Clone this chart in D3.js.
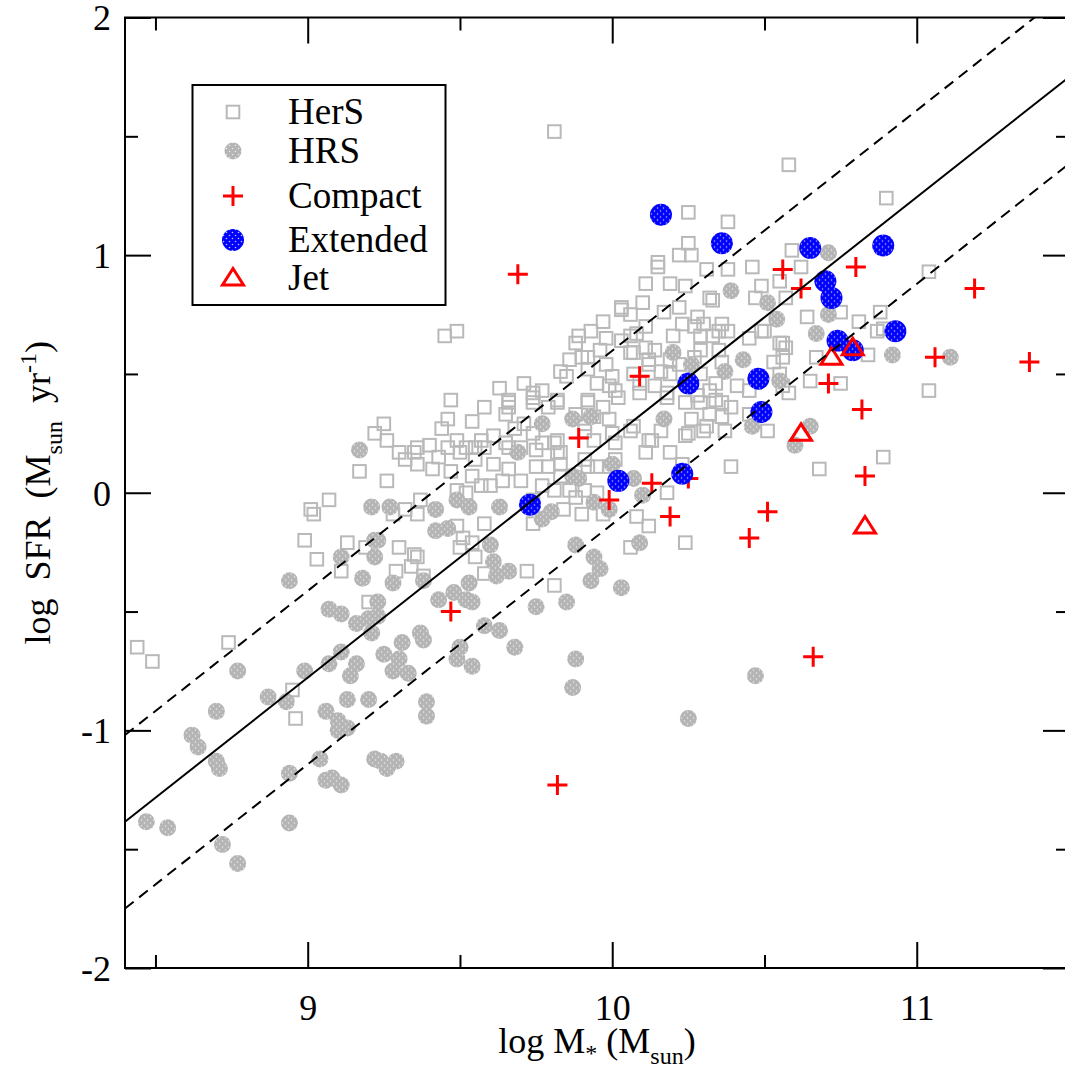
<!DOCTYPE html>
<html>
<head>
<meta charset="utf-8">
<script src="https://cdn.jsdelivr.net/npm/d3@7"></script>
<style>
  body { margin: 0; background: #fff; }
  text { font-family: "Liberation Serif", "Times New Roman", serif; }
</style>
</head>
<body>
<div id="chart"></div>
<script>
// ---- data (log M*, log SFR) ----
const hersPoints = [
  [8.44,-0.65],[8.49,-0.71],[8.74,-0.63],[8.95,-0.83],[8.96,-0.95],
  [9.01,-0.07],[9.02,-0.09],[9.07,-0.03],[8.99,-0.20],[9.03,-0.28],[9.13,-0.21],[9.11,-0.33],
  [9.17,0.09],[9.22,0.25],[9.20,-0.46],[9.19,-0.23],[9.25,0.29],
  [9.45,0.66],[9.49,0.68],[9.47,0.39],[9.46,0.31],
  [9.66,0.38],[9.74,0.38],[9.79,0.36],[9.65,0.33],[9.68,0.27],[9.71,0.29],[9.66,0.19],[9.70,0.19],
  [9.75,0.18],[9.77,0.21],[9.82,0.22],[9.83,0.17],[9.91,0.26],[9.94,0.32],[9.99,0.31],[10.01,0.21],
  [9.92,0.11],[9.99,0.11],[9.83,0.12],[9.79,0.11],[9.75,0.11],[9.70,0.05],[9.66,0.10],[9.61,0.24],
  [9.58,0.19],[9.55,0.19],[9.50,0.17],[9.35,0.17],[9.36,0.12],[9.41,0.10],[9.47,0.09],[9.54,0.07],
  [9.49,0.01],[9.52,0.00],[9.57,0.03],[9.60,0.03],[9.64,0.05],[9.37,-0.03],[9.36,-0.09],[9.32,-0.07],
  [9.28,-0.09],[9.30,-0.23],[9.35,-0.26],[9.36,-0.27],[9.29,-0.33],[9.34,-0.31],[9.38,-0.35],
  [9.51,-0.19],[9.50,-0.23],[9.54,-0.21],[9.58,-0.34],[9.55,-0.27],[9.49,-0.14],[9.58,-0.13],
  [9.72,-0.33],[9.81,-0.39],[9.74,-0.13],[9.84,-0.07],[9.88,-0.02],[9.91,0.01],[9.90,-0.09],
  [9.97,-0.09],[9.81,0.01],[9.77,0.03],[9.74,-0.03],[10.01,0.14],[9.49,0.22],[9.61,0.12],[9.55,0.14],[9.43,0.15],
  [10.03,0.78],[10.03,0.77],[9.98,0.65],[10.03,0.64],[9.86,0.56],[9.92,0.57],[9.96,0.60],[9.98,0.54],
  [9.83,0.51],[9.85,0.49],[9.92,0.52],[9.74,0.42],[9.77,0.43],[9.66,0.39],[9.95,0.46],[9.99,0.45],[10.01,0.43],
  [10.58,1.38],[10.90,1.24],[10.38,1.14],[10.59,1.02],[10.31,0.94],[10.38,0.94],[10.46,0.95],[10.62,0.95],
  [10.55,0.89],[10.49,0.87],[10.32,0.82],[10.33,0.81],[10.47,0.82],[10.57,0.82],[10.49,0.68],[10.64,0.74],
  [10.75,0.76],[10.81,0.72],[10.88,0.76],[10.87,0.68],[11.04,0.93],[10.38,0.68],[10.30,0.71],[10.56,0.63],
  [9.81,1.52],[10.25,1.18],[10.25,1.05],[10.22,1.00],[10.26,1.00],[10.15,0.97],[10.15,0.95],[10.11,0.88],
  [10.19,0.88],[10.24,0.87],[10.17,0.76],[10.22,0.78],[10.28,0.74],[10.23,0.71],[10.27,0.70],[10.11,0.70],
  [10.08,0.67],[10.20,0.66],[10.29,0.66],[10.35,0.68],[10.45,0.65],[10.50,0.68],[10.55,0.63],[10.57,0.61],[10.89,0.69],
  [9.90,0.57],[10.06,0.59],[10.12,0.56],[10.19,0.56],[10.27,0.57],[10.36,0.55],[10.56,0.57],[10.53,0.55],
  [10.67,0.57],[10.84,0.58],
  [10.00,0.49],[10.07,0.50],[10.19,0.50],[10.29,0.50],[10.34,0.46],[10.55,0.50],[10.56,0.45],[10.58,0.42],
  [10.65,0.47],[10.75,0.46],[11.04,0.43],
  [9.82,0.39],[9.92,0.39],[10.09,0.42],[10.18,0.40],[10.29,0.38],[10.34,0.39],[10.39,0.36],[10.51,0.26],
  [9.91,0.29],[10.06,0.26],[10.16,0.26],[10.26,0.31],[10.30,0.26],[10.37,0.26],[10.24,0.24],
  [9.82,0.17],[9.91,0.14],[9.95,0.11],[10.12,0.22],[10.11,0.17],[10.19,0.17],[10.23,0.12],[10.39,0.11],
  [9.83,0.07],[10.18,0.00],[10.08,-0.10],[10.12,-0.14],[10.24,-0.21],[10.68,0.10],[10.89,0.15],[10.06,-0.23],
  [9.88,0.63],[10.06,0.66],[10.11,0.61],[10.14,0.60],[10.07,0.59],[10.12,0.54],[10.16,0.51],[10.22,0.54],
  [10.29,0.60],[10.33,0.66],[10.36,0.71],[10.35,0.60],
  [9.66,0.36],[9.74,0.40],[9.82,0.38],[9.88,0.33],[9.92,0.38],[9.97,0.36],[10.02,0.40],[10.09,0.46],
  [10.14,0.45],[10.18,0.42],[10.24,0.38],[10.28,0.41],[10.32,0.43],[10.36,0.38],[10.00,0.25],[10.07,0.28],
  [10.13,0.22],[10.25,0.25],[10.31,0.28],[9.57,0.22],[9.65,0.21],[9.74,0.25],[9.81,0.21],[9.94,0.22],
  [9.52,0.19],[9.46,0.19],[9.36,0.19],
  [9.86,0.01],[9.95,0.00],[10.32,0.33],[10.36,0.32],[10.45,0.33],[10.41,0.45],[10.45,0.43],
  [9.93,0.68],[9.97,0.72],[9.89,0.66],[10.06,0.75],[10.10,0.80],[9.71,0.46],[9.63,0.44],[9.58,0.36],
  [9.54,0.30],[9.44,0.27],[9.40,0.20],[9.32,0.14],[9.26,0.05],[9.26,0.22],[9.30,0.17]
];

const hrsPoints = [
  [8.47,-1.385],[8.54,-1.41],[8.72,-1.48],[8.77,-1.56],[8.94,-1.39],[8.62,-1.02],[8.64,-1.07],[8.70,-1.13],
  [8.71,-1.16],[8.70,-0.92],[8.77,-0.75],[8.87,-0.86],[8.93,-0.88],[8.99,-0.75],[8.94,-1.18],[8.94,-0.37],
  [9.04,-1.12],[9.06,-1.21],[9.08,-1.20],[9.11,-1.23],[9.06,-0.92],[9.10,-0.96],[9.10,-1.00],[9.13,-0.99],
  [9.13,-0.87],[9.20,-0.87],[9.14,-0.77],[9.16,-0.72],[9.07,-0.72],[9.11,-0.67],[9.07,-0.49],[9.11,-0.51],
  [9.16,-0.55],[9.20,-0.53],[9.21,-0.59],[9.18,-0.36],[9.11,-0.27],[9.22,-0.27],[9.22,-0.20],[9.21,-0.06],
  [9.17,0.18],[9.22,-1.12],
  [9.27,-0.06],[9.42,-0.07],[9.49,-0.03],[9.53,-0.06],[9.63,-0.06],[9.77,0.29],[9.87,0.31],[9.69,0.17],
  [9.80,-0.08],[9.77,-0.11],[9.89,0.06],[9.42,-0.16],[9.46,-0.15],[9.23,-0.20],[9.60,-0.22],[9.61,-0.29],
  [9.62,-0.35],[9.66,-0.33],[9.28,-0.38],[9.38,-0.37],[9.53,-0.38],[9.43,-0.45],[9.48,-0.42],[9.52,-0.45],
  [9.54,-0.46],[9.23,-0.46],[9.23,-0.52],[9.58,-0.56],[9.63,-0.58],[9.37,-0.59],[9.38,-0.62],[9.31,-0.63],
  [9.50,-0.65],[9.68,-0.65],[9.75,-0.48],[9.85,-0.46],[9.88,-0.22],[9.94,-0.27],[9.96,-0.32],[9.93,-0.37],
  [10.03,-0.40],
  [9.25,-0.68],[9.30,-0.70],[9.28,-0.75],[9.33,-0.76],[9.49,-0.70],[9.54,-0.73],[9.88,-0.70],[9.87,-0.82],
  [9.39,-0.88],[9.39,-0.94],[9.24,-1.13],[9.29,-1.13],[9.26,-1.16],
  [10.09,-0.21],[10.47,-0.77],[10.25,-0.95],
  [10.39,0.85],[10.71,1.01],[10.51,0.80],[10.54,0.73],[10.71,0.75],[10.67,0.67],[10.92,0.58],[10.43,0.56],
  [10.26,0.54],[10.20,0.59],[10.37,0.51],[10.65,0.28],[10.60,0.20],[10.46,0.28],[10.55,0.47],[10.07,0.06],
  [10.10,-0.01],[9.94,-0.04],[9.99,-0.07],[10.17,0.31],[9.93,0.32],[10.00,0.12],[9.87,0.07],[11.11,0.57]
];

const compactPoints = [
  [9.69,0.92],[10.56,0.94],[10.62,0.86],[10.80,0.95],[11.19,0.86],[11.37,0.55],[11.06,0.57],[10.71,0.46],
  [10.82,0.35],[10.83,0.07],[10.51,-0.08],[10.45,-0.19],[10.19,-0.10],[10.25,0.06],[10.13,0.04],[9.99,-0.03],
  [10.09,0.49],[9.89,0.23],[9.47,-0.50],[9.82,-1.23],[10.66,-0.69]
];

const extendedPoints = [
  [10.16,1.17],[10.36,1.05],[10.65,1.03],[10.89,1.04],[10.70,0.89],[10.72,0.82],[10.93,0.68],[10.74,0.64],
  [10.79,0.60],[10.25,0.46],[10.48,0.48],[10.49,0.34],[10.23,0.08],[10.02,0.05],[9.73,-0.05]
];

const jetPoints = [[10.72,0.57],[10.79,0.61],[10.62,0.25],[10.83,-0.14]];

// main-sequence relation and its scatter
const msSlope = 1.011;
const msIntercept = -9.877;
const msScatter = 0.365;

const xDomain = [8.4, 11.5];
const yDomain = [-2, 2];
const xMajorTicks = [9, 10, 11];
const xMinorTicks = [8.5, 9.5, 10.5, 11.5];
const yMajorTicks = [-2, -1, 0, 1, 2];
const yMinorTicks = [-1.5, -0.5, 0.5, 1.5];
const legendLabels = ["HerS", "HRS", "Compact", "Extended", "Jet"];

// ---- layout ----
const margin = {top: 17.5, left: 125};
const width = 944;
const height = 950.5;
const grayCol = "#b9b9b9";
const red = "#ff0000";
const blue = "#0000ff";
const serif = "'Liberation Serif', 'Times New Roman', serif";

const svg = d3.select("#chart").append("svg")
    .attr("width", 1065)
    .attr("height", 1069);

// dotted fill patterns (grace-style)
const defs = svg.append("defs");
function dotPattern(id, col) {
  const p = defs.append("pattern")
      .attr("id", id)
      .attr("patternUnits", "userSpaceOnUse")
      .attr("width", 6).attr("height", 6);
  p.append("rect").attr("width", 6).attr("height", 6).attr("fill", col);
  p.append("circle").attr("cx", 1.5).attr("cy", 1.5).attr("r", 0.8).attr("fill", "#ffffff").attr("opacity", 0.75);
  p.append("circle").attr("cx", 4.5).attr("cy", 4.5).attr("r", 0.8).attr("fill", "#ffffff").attr("opacity", 0.75);
}
dotPattern("dotsGray", "#b4b4b4");
dotPattern("dotsBlue", blue);

defs.append("clipPath").attr("id", "plotClip")
  .append("rect").attr("width", width).attr("height", height);

const g = svg.append("g").attr("transform", `translate(${margin.left},${margin.top})`);

const x = d3.scaleLinear().domain(xDomain).range([0, width]);
const y = d3.scaleLinear().domain(yDomain).range([height, 0]);

// ---- axes (inward ticks on all four sides) ----
function styleAxis(sel) {
  sel.attr("font-family", serif).attr("font-size", 36);
  sel.select(".domain").remove();
  sel.selectAll(".tick line").attr("stroke", "#000").attr("stroke-width", 2);
  sel.selectAll("text").attr("fill", "#000")
     .attr("font-family", serif).style("font-family", serif).style("font-size", "36px");
}

const bottom = g.append("g").attr("transform", `translate(0,${height})`)
    .call(d3.axisBottom(x).tickValues(xMajorTicks).tickSize(-26).tickFormat(d3.format("d")));
styleAxis(bottom);
bottom.selectAll("text").attr("y", 52).attr("dy", "0");

g.append("g").attr("transform", `translate(0,${height})`)
    .call(d3.axisBottom(x).tickValues(xMinorTicks).tickSize(-13).tickFormat(""))
    .call(styleAxis);

g.append("g")
    .call(d3.axisTop(x).tickValues(xMajorTicks).tickSize(-26).tickFormat(""))
    .call(styleAxis);
g.append("g")
    .call(d3.axisTop(x).tickValues(xMinorTicks).tickSize(-13).tickFormat(""))
    .call(styleAxis);

const left = g.append("g")
    .call(d3.axisLeft(y).tickValues(yMajorTicks).tickSize(-26).tickFormat(d => d < 0 ? "-" + Math.abs(d) : d));
styleAxis(left);
left.selectAll("text").attr("x", -14).attr("dy", "0.34em");

g.append("g")
    .call(d3.axisLeft(y).tickValues(yMinorTicks).tickSize(-13).tickFormat(""))
    .call(styleAxis);

g.append("g").attr("transform", `translate(${width},0)`)
    .call(d3.axisRight(y).tickValues(yMajorTicks).tickSize(-26).tickFormat(""))
    .call(styleAxis);
g.append("g").attr("transform", `translate(${width},0)`)
    .call(d3.axisRight(y).tickValues(yMinorTicks).tickSize(-13).tickFormat(""))
    .call(styleAxis);

// ---- markers ----
const plot = g.append("g").attr("clip-path", "url(#plotClip)");

function drawSquare(sel, px, py) {
  sel.append("rect")
      .attr("x", px - 6.3).attr("y", py - 6.3)
      .attr("width", 12.6).attr("height", 12.6)
      .attr("fill", "none").attr("stroke", grayCol).attr("stroke-width", 2);
}
function drawCircle(sel, px, py, r, fill) {
  sel.append("circle").attr("cx", px).attr("cy", py).attr("r", r).attr("fill", fill);
}
function drawCross(sel, px, py) {
  sel.append("path")
      .attr("d", `M${px - 10},${py}H${px + 10}M${px},${py - 10}V${py + 10}`)
      .attr("stroke", red).attr("stroke-width", 3).attr("fill", "none");
}
function drawTriangle(sel, px, py) {
  sel.append("path")
      .attr("d", `M${px},${py - 9.5}L${px + 10.5},${py + 7}L${px - 10.5},${py + 7}Z`)
      .attr("stroke", red).attr("stroke-width", 3).attr("fill", "none")
      .attr("stroke-linejoin", "miter");
}

hersPoints.forEach(d => drawSquare(plot, x(d[0]), y(d[1])));
hrsPoints.forEach(d => drawCircle(plot, x(d[0]), y(d[1]), 8.5, "url(#dotsGray)"));
compactPoints.forEach(d => drawCross(plot, x(d[0]), y(d[1])));
extendedPoints.forEach(d => drawCircle(plot, x(d[0]), y(d[1]), 11, "url(#dotsBlue)"));
jetPoints.forEach(d => drawTriangle(plot, x(d[0]), y(d[1])));

// ---- main sequence lines ----
const msLine = d3.line().x(d => x(d[0])).y(d => y(d[1]));
[0, msScatter, -msScatter].forEach(off => {
  const pts = xDomain.map(v => [v, msSlope * v + msIntercept + off]);
  plot.append("path")
      .attr("d", msLine(pts))
      .attr("fill", "none")
      .attr("stroke", "#000")
      .attr("stroke-width", 2)
      .attr("stroke-dasharray", off === 0 ? null : "11,7");
});

// frame
g.append("rect").attr("width", width).attr("height", height)
    .attr("fill", "none").attr("stroke", "#000").attr("stroke-width", 2);

// ---- legend ----
const legend = svg.append("g");
legend.append("rect")
    .attr("x", 192.5).attr("y", 85).attr("width", 253).attr("height", 220)
    .attr("fill", "#fff").attr("stroke", "#000").attr("stroke-width", 2);
const rowY = [112, 151, 196, 240, 278];
const markerX = 233;
legendLabels.forEach((label, i) => {
  const cy = rowY[i];
  if (i === 0) drawSquare(legend, markerX, cy);
  if (i === 1) drawCircle(legend, markerX, cy, 8.5, "url(#dotsGray)");
  if (i === 2) drawCross(legend, markerX, cy);
  if (i === 3) drawCircle(legend, markerX, cy, 11, "url(#dotsBlue)");
  if (i === 4) drawTriangle(legend, markerX, cy);
  legend.append("text")
      .attr("x", 288).attr("y", cy + 12)
      .style("font-size", "37px")
      .text(label);
});

// ---- axis titles ----
const xTitle = svg.append("text")
    .attr("x", 597).attr("y", 1053)
    .attr("text-anchor", "middle")
    .style("font-size", "36px")
    .style("white-space", "pre");
xTitle.append("tspan").text("log M");
xTitle.append("tspan").attr("dy", 8).style("font-size", "24px").text("*");
xTitle.append("tspan").attr("dy", -8).text(" (M");
xTitle.append("tspan").attr("dy", 11).style("font-size", "24px").text("sun");
xTitle.append("tspan").attr("dy", -11).text(")");

const yTitle = svg.append("text")
    .attr("transform", `translate(50,${margin.top + height / 2}) rotate(-90)`)
    .attr("text-anchor", "middle")
    .style("font-size", "36px")
    .style("white-space", "pre");
yTitle.append("tspan").text("log  SFR  (M");
yTitle.append("tspan").attr("dy", 12).style("font-size", "24px").text("sun");
yTitle.append("tspan").attr("dy", -12).text("  yr");
yTitle.append("tspan").attr("dy", -14).style("font-size", "24px").text("-1");
yTitle.append("tspan").attr("dy", 14).text(")");
</script>
</body>
</html>
